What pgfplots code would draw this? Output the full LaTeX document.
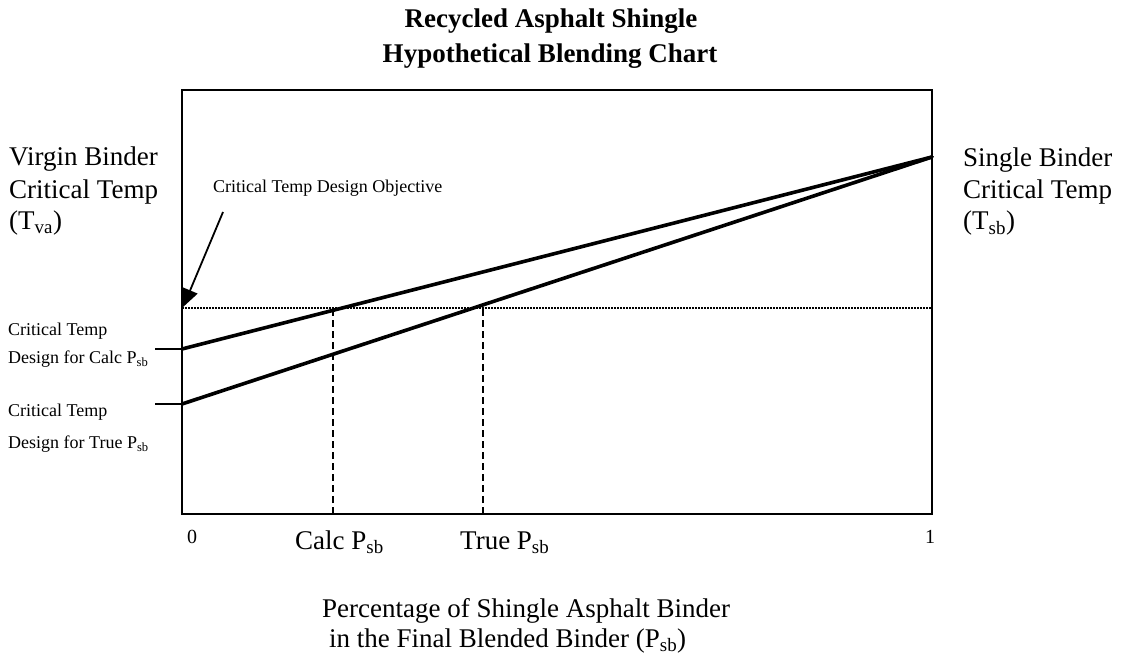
\documentclass[border=0pt]{standalone}
\usepackage{fontspec}
\setmainfont{Liberation Serif}
\usepackage{pgfplots}
\pgfplotsset{compat=1.18}
\usetikzlibrary{arrows.meta}
\newcommand\fbig{\fontsize{27}{32}\selectfont}
\newcommand\fmid{\fontsize{20}{24}\selectfont}
\newcommand\fsml{\fontsize{18}{22}\selectfont}
\begin{document}
\begin{tikzpicture}[x=1pt,y=1pt]
\useasboundingbox (0,0) rectangle (1129,656);
\begin{axis}[
  at={(182pt,142pt)}, anchor=south west,
  width=750pt, height=424pt, scale only axis,
  xmin=0, xmax=1, ymin=142, ymax=566,
  xtick=\empty, ytick=\empty,
  clip=false,
  axis line style={line width=2.4pt, black},
]
% blend lines
\addplot[black, line width=3.6pt, line cap=round] coordinates {(0,307) (1,499)};
\addplot[black, line width=3.6pt, line cap=round] coordinates {(0,252) (1,499)};
% design objective
\addplot[black, line width=1.1pt, dash pattern=on 1.5pt off 1.5pt] coordinates {(0,348) (1,348)};
% vertical dashed lines
\addplot[black, line width=1.6pt, dash pattern=on 7pt off 4pt] coordinates {(0.201,142) (0.201,348)};
\addplot[black, line width=1.6pt, dash pattern=on 7pt off 4pt] coordinates {(0.401,142) (0.401,348)};
% short leader lines left of axis
\addplot[black, line width=1.6pt] coordinates {(-0.036,307) (0,307)};
\addplot[black, line width=1.6pt] coordinates {(-0.036,252) (0,252)};
% arrow to design objective
\addplot[black, line width=1.8pt, -{Triangle[length=18pt,width=16pt]}] coordinates {(0.0547,444) (0.0015,349)};
\end{axis}
% title
\node[anchor=base, font=\fbig\bfseries] at (551,628) {Recycled Asphalt Shingle};
\node[anchor=base, font=\fbig\bfseries] at (550,593) {Hypothetical Blending Chart};
% left labels
\node[anchor=base west, inner sep=0pt, font=\fbig] at (9,490) {Virgin Binder};
\node[anchor=base west, inner sep=0pt, font=\fbig] at (9,457) {Critical Temp};
\node[anchor=base west, inner sep=0pt, font=\fbig] at (9,426) {(T\textsubscript{va})};
% right labels
\node[anchor=base west, inner sep=0pt, font=\fbig] at (963,489) {Single Binder};
\node[anchor=base west, inner sep=0pt, font=\fbig] at (963,457) {Critical Temp};
\node[anchor=base west, inner sep=0pt, font=\fbig] at (963,426) {(T\textsubscript{sb})};
% objective label
\node[anchor=base west, inner sep=0pt, font=\fsml] at (213,463) {Critical Temp Design Objective};
% small left labels
\node[anchor=base west, inner sep=0pt, font=\fsml] at (8,320) {Critical Temp};
\node[anchor=base west, inner sep=0pt, font=\fsml] at (8,292) {Design for Calc P\textsubscript{sb}};
\node[anchor=base west, inner sep=0pt, font=\fsml] at (8,239) {Critical Temp};
\node[anchor=base west, inner sep=0pt, font=\fsml] at (8,207) {Design for True P\textsubscript{sb}};
% x labels
\node[anchor=base west, inner sep=0pt, font=\fmid] at (187,113) {0};
\node[anchor=base, inner sep=0pt, font=\fmid] at (930,113) {1};
\node[anchor=base west, inner sep=0pt, font=\fbig] at (295,107) {Calc P\textsubscript{sb}};
\node[anchor=base west, inner sep=0pt, font=\fbig] at (460,107) {True P\textsubscript{sb}};
% axis title
\node[anchor=base west, inner sep=0pt, font=\fbig] at (322,39) {Percentage of Shingle Asphalt Binder};
\node[anchor=base west, inner sep=0pt, font=\fbig] at (329,9) {in the Final Blended Binder (P\textsubscript{sb})};
\end{tikzpicture}
\end{document}
